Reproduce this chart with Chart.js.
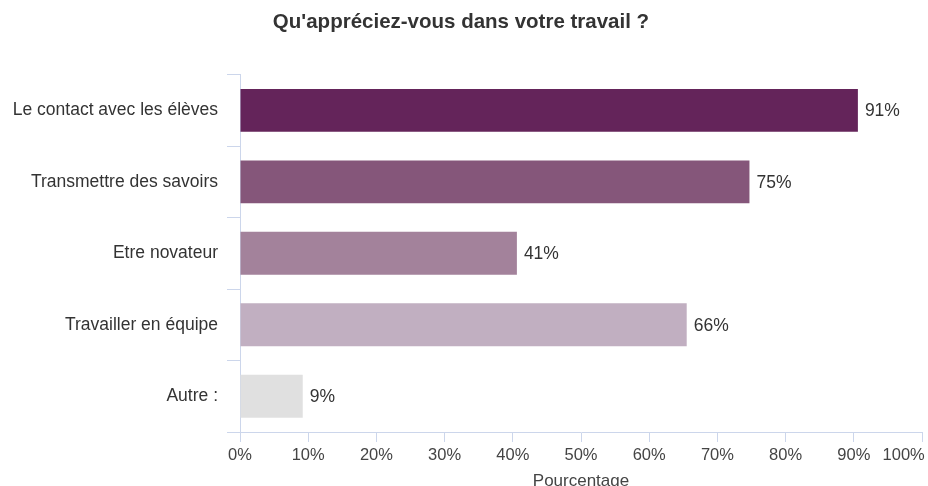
<!DOCTYPE html>
<html>
<head>
<meta charset="utf-8">
<script src="https://cdn.jsdelivr.net/npm/chart.js@4/dist/chart.umd.min.js"></script>
<style>
  body { margin: 0; background: #fff; }
  canvas { display: block; }
</style>
</head>
<body>
<canvas id="chart" width="928" height="486"></canvas>
<script>
var categories = ["Le contact avec les élèves", "Transmettre des savoirs", "Etre novateur", "Travailler en équipe", "Autre :"];
var values = [90.6, 74.7, 40.6, 65.5, 9.2];
var barColors = ["#64245a", "#85567a", "#a3829b", "#c1afc1", "#e0e0e0"];
var xTicks = [0, 10, 20, 30, 40, 50, 60, 70, 80, 90, 100];

var axisColor = "#ccd6eb";
var font = "'Liberation Sans', Arial, sans-serif";

// draws the value next to the end of each bar
var valueLabels = {
    id: "valueLabels",
    afterDatasetsDraw: function(chart) {
        var ctx = chart.ctx;
        var meta = chart.getDatasetMeta(0);
        ctx.save();
        ctx.font = "17.5px " + font;
        ctx.fillStyle = "#333333";
        ctx.textAlign = "left";
        ctx.textBaseline = "middle";
        meta.data.forEach(function(bar, i) {
            ctx.fillText(Math.round(values[i]) + "%", bar.x + 7, bar.y + 1);
        });
        ctx.restore();
    }
};

var ctx = document.getElementById("chart").getContext("2d");

var myChart = new Chart(ctx, {
    type: "bar",
    data: {
        labels: categories,
        datasets: [{
            data: values,
            backgroundColor: barColors,
            barPercentage: 0.6,
            categoryPercentage: 1
        }]
    },
    options: {
        indexAxis: "y",
        responsive: false,
        animation: false,
        devicePixelRatio: 1,
        layout: { padding: { left: 0, right: 6, top: 0, bottom: 0 } },
        plugins: {
            legend: { display: false },
            tooltip: { enabled: false },
            title: {
                display: true,
                text: "Qu'appréciez-vous dans votre travail ?",
                color: "#333333",
                font: { family: font, size: 20.5, weight: "bold" },
                padding: { top: 10, bottom: 40 }
            }
        },
        scales: {
            x: {
                min: 0,
                max: 100,
                afterBuildTicks: function(scale) {
                    scale.ticks = xTicks.map(function(v) { return { value: v }; });
                },
                afterFit: function(scale) {
                    scale.height = 54;
                    scale.paddingRight = 0;
                },
                ticks: {
                    color: "#444444",
                    font: { family: font, size: 16.5 },
                    padding: 4,
                    maxRotation: 0,
                    autoSkip: false,
                    callback: function(v) {
                        // last label sits left of its tick, like the original
                        return v === 100 ? v + "%        " : v + "%";
                    }
                },
                grid: {
                    drawOnChartArea: false,
                    drawTicks: true,
                    tickLength: 10,
                    color: axisColor
                },
                border: { color: axisColor, width: 1 },
                title: {
                    display: true,
                    text: "Pourcentage",
                    color: "#444444",
                    font: { family: font, size: 17 },
                    padding: { top: 6, bottom: -6 }
                }
            },
            y: {
                afterFit: function(scale) { scale.width = 240; },
                ticks: {
                    color: "#333333",
                    font: { family: font, size: 17.5 },
                    padding: 9
                },
                grid: {
                    offset: true,
                    drawOnChartArea: false,
                    drawTicks: true,
                    tickLength: 13,
                    color: axisColor
                },
                border: { color: axisColor, width: 1 }
            }
        }
    },
    plugins: [valueLabels]
});
</script>
</body>
</html>
